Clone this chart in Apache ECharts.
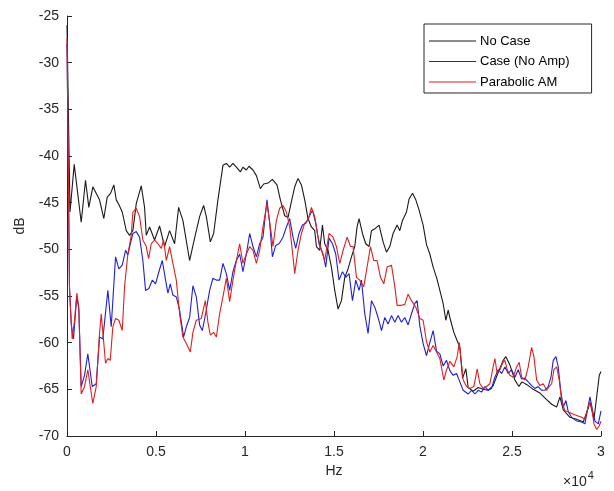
<!DOCTYPE html>
<html>
<head>
<meta charset="utf-8">
<title>Spectrum comparison</title>
<script src="https://cdn.jsdelivr.net/npm/echarts@6/dist/echarts.min.js"></script>
<style>
  html, body { margin: 0; padding: 0; background: #fff; }
  #chart { width: 614px; height: 491px; }
</style>
</head>
<body>
<div id="chart"></div>
<script>
// Series names shown in the legend
const seriesNames = ['No Case', 'Case (No Amp)', 'Parabolic AM'];

// Frequency tick values (Hz); labels are shown in units of 10^4
const xTicks = [0, 5000, 10000, 15000, 20000, 25000, 30000];
const yTicks = [-70, -65, -60, -55, -50, -45, -40, -35, -30, -25];

// No Case: frequency (Hz) and level (dB)
const freqNoCase = [0,169,405,798,1040,1226,1451,1827,2069,2260,2446,2632,2767,2913,3104,3329,3514,3700,3891,4172,4358,4453,4639,4920,5201,5482,5764,6045,6270,6511,6888,7169,7450,7675,7827,8052,8238,8479,8761,8952,9137,9323,9514,9739,9885,10077,10223,10448,10639,10864,11049,11291,11538,11797,11988,12230,12416,12607,12792,12978,13169,13355,13540,13731,13917,14012,14198,14350,14479,14665,14856,15042,15227,15418,15604,15789,15981,16166,16296,16408,16599,16785,16970,17105,17291,17533,17758,17949,18134,18320,18545,18696,18848,19073,19219,19411,19596,19782,20007,20198,20383,20569,20760,20946,21131,21283,21413,21548,21733,21919,22070,22222,22408,22537,22818,23099,23380,23662,23943,24224,24505,24657,24882,25163,25388,25557,25838,26192,26569,26945,27227,27508,27693,27879,28256,28632,29003,29229,29380,29605,29757,29903,30000];
const dbNoCase = [-26.0,-46.0,-40.9,-47.1,-42.6,-45.5,-43.3,-44.7,-46.7,-44.4,-44.0,-43.1,-44.7,-45.2,-46.0,-48.0,-48.5,-48.0,-45.1,-43.2,-45.5,-48.5,-47.6,-49.0,-47.5,-49.7,-48.0,-49.4,-45.5,-46.9,-51.2,-48.8,-46.5,-45.3,-46.5,-49.2,-48.3,-44.7,-41.0,-40.8,-41.2,-40.8,-41.2,-41.7,-41.2,-41.5,-41.1,-41.5,-42.1,-43.5,-43.0,-42.9,-42.5,-43.1,-44.7,-46.4,-46.6,-44.9,-43.3,-42.4,-43.1,-44.7,-46.7,-47.6,-48.0,-49.7,-50.1,-47.4,-49.4,-50.1,-51.9,-54.4,-56.4,-55.5,-53.0,-52.1,-50.8,-49.7,-47.6,-46.7,-48.3,-49.4,-49.7,-48.0,-47.8,-47.4,-49.2,-50.3,-49.7,-48.3,-47.4,-48.0,-46.9,-46.0,-44.6,-44.0,-44.7,-45.8,-47.4,-49.5,-50.5,-51.9,-53.0,-54.4,-55.8,-57.6,-56.5,-57.6,-58.9,-59.8,-60.5,-63.8,-62.8,-64.8,-65.2,-64.8,-65.0,-65.1,-64.6,-63.2,-61.9,-61.5,-62.4,-64.0,-64.7,-64.2,-64.5,-65.0,-65.4,-66.1,-66.6,-66.9,-65.8,-67.2,-68.0,-68.2,-68.5,-67.3,-66.4,-68.2,-65.8,-63.5,-63.1];

// Case (No Amp): frequency (Hz) and level (dB)
const freqCase = [0,141,236,365,551,664,798,984,1170,1417,1642,1827,2013,2294,2485,2727,2913,3104,3290,3419,3610,3700,3891,4077,4262,4414,4600,4791,4976,5162,5353,5539,5668,5803,5949,6140,6326,6551,6703,6888,7074,7265,7450,7602,7788,8013,8198,8390,8575,8761,8952,9137,9323,9514,9700,9885,10077,10262,10448,10639,10824,11010,11235,11387,11538,11724,11910,12135,12326,12511,12697,12849,13034,13226,13411,13597,13788,13973,14159,14384,14535,14721,14912,15098,15283,15475,15660,15846,16037,16223,16408,16543,16729,16914,17105,17291,17476,17668,17853,18039,18230,18416,18601,18792,18978,19163,19354,19540,19669,19821,20007,20198,20383,20569,20760,20946,21131,21322,21508,21694,21885,22070,22256,22537,22728,22914,23099,23290,23476,23662,23853,24039,24224,24415,24601,24786,24977,25163,25349,25540,25726,25911,26102,26288,26473,26665,26850,27036,27188,27317,27469,27598,27733,27879,28031,28160,28351,28632,28913,29099,29229,29380,29532,29661,29847,30000];
const dbCase = [-28.0,-54.0,-58.0,-59.6,-55.0,-56.5,-64.7,-63.5,-61.2,-64.7,-64.4,-59.4,-59.6,-54.4,-58.3,-50.8,-52.1,-51.7,-50.1,-50.6,-49.0,-48.3,-48.1,-48.7,-51.2,-54.4,-54.2,-53.3,-53.7,-52.4,-51.2,-53.3,-54.7,-53.7,-54.9,-55.1,-56.5,-59.4,-58.3,-57.3,-53.9,-55.1,-58.1,-58.7,-56.9,-54.4,-53.1,-53.3,-53.3,-51.5,-52.6,-54.4,-52.4,-51.2,-50.5,-52.4,-50.5,-48.3,-49.7,-50.8,-49.4,-48.7,-44.7,-47.2,-50.8,-49.6,-49.4,-48.7,-47.6,-46.7,-48.7,-49.9,-48.3,-47.4,-47.2,-46.5,-45.8,-47.2,-49.4,-50.5,-51.9,-48.8,-49.4,-50.5,-53.3,-52.4,-53.0,-52.6,-55.5,-53.3,-54.4,-53.3,-56.9,-59.0,-55.5,-56.2,-57.3,-58.7,-57.3,-58.0,-57.1,-57.8,-57.1,-57.8,-57.3,-58.1,-56.9,-55.8,-55.5,-58.2,-60.1,-61.4,-60.0,-58.7,-60.9,-61.2,-62.5,-61.9,-63.0,-63.5,-63.3,-64.2,-65.1,-65.5,-65.1,-65.5,-65.1,-65.3,-64.7,-65.1,-64.9,-63.7,-62.9,-63.3,-62.6,-63.3,-62.9,-63.7,-62.9,-63.9,-63.8,-64.2,-64.6,-64.9,-64.7,-65.1,-65.1,-64.7,-63.7,-61.9,-61.5,-62.6,-65.1,-66.9,-66.2,-67.4,-68.0,-68.4,-68.5,-68.7,-67.3,-65.8,-67.3,-68.4,-68.7,-67.3];

// Parabolic AM: frequency (Hz) and level (dB)
const freqParabolic = [0,141,292,422,551,664,798,984,1170,1305,1451,1642,1827,1923,2052,2165,2294,2429,2575,2727,2913,3104,3233,3419,3610,3700,3891,4077,4262,4453,4583,4735,4920,5106,5297,5426,5578,5764,5949,6140,6326,6511,6703,6928,7074,7265,7546,7636,7771,7917,8052,8238,8390,8575,8761,8952,9137,9323,9514,9700,9885,10077,10262,10448,10639,10824,11010,11235,11426,11572,11763,11949,12135,12326,12511,12697,12792,12978,13169,13355,13540,13731,13917,14102,14294,14479,14721,14946,15137,15323,15514,15739,15925,16071,16262,16447,16672,16858,17049,17235,17420,17612,17797,17983,18230,18416,18545,18792,18978,19163,19354,19596,19821,20007,20198,20383,20569,20760,20946,21171,21322,21508,21733,21919,22042,22256,22447,22633,22858,23043,23195,23380,23572,23757,23909,24039,24168,24320,24471,24601,24730,24882,25067,25259,25405,25540,25726,25911,26102,26232,26383,26569,26754,26945,27092,27227,27356,27508,27654,27789,27975,28160,28351,28632,28913,29099,29229,29341,29476,29605,29757,29903,30000];
const dbParabolic = [-27.4,-54.4,-59.6,-57.6,-54.7,-56.2,-65.5,-64.7,-62.9,-64.7,-66.5,-64.7,-59.0,-56.9,-59.7,-62.2,-61.7,-61.9,-58.3,-57.4,-57.6,-58.7,-54.0,-50.5,-48.5,-46.0,-45.6,-46.5,-49.0,-49.7,-51.0,-49.4,-49.0,-49.4,-49.9,-49.0,-51.2,-49.7,-51.5,-53.3,-56.9,-59.4,-60.1,-61.0,-58.9,-57.6,-57.4,-57.6,-55.5,-57.8,-59.2,-58.9,-59.4,-56.9,-55.1,-53.1,-55.6,-53.3,-51.2,-49.4,-51.5,-50.5,-49.7,-50.1,-51.5,-50.1,-47.6,-45.1,-47.6,-49.7,-46.9,-45.6,-45.3,-46.0,-47.6,-50.8,-52.6,-50.1,-48.3,-47.2,-46.9,-45.5,-46.5,-48.7,-50.1,-51.2,-48.3,-48.7,-49.7,-51.5,-50.1,-48.7,-49.7,-49.7,-53.0,-53.3,-54.0,-51.9,-49.7,-51.2,-51.2,-53.0,-53.7,-51.9,-51.7,-54.0,-56.0,-56.0,-55.9,-54.8,-55.5,-56.2,-57.4,-57.6,-59.9,-61.0,-60.3,-61.0,-61.7,-64.0,-62.9,-62.0,-62.6,-61.5,-60.0,-64.0,-64.7,-64.9,-64.7,-62.8,-64.4,-64.9,-64.7,-64.4,-62.9,-61.7,-63.3,-62.9,-62.2,-61.9,-62.9,-63.5,-63.7,-62.6,-62.1,-63.7,-64.0,-62.6,-60.5,-61.5,-64.0,-64.6,-64.4,-65.1,-64.7,-64.4,-62.9,-62.6,-64.0,-66.2,-67.3,-67.4,-67.6,-67.8,-68.0,-68.2,-67.3,-66.4,-66.9,-68.7,-69.3,-68.9,-68.4];

const lineColors = ['#1a1a1a', '#1f1fd6', '#e01f1f'];
const axisColor = '#262626';
const fontFamily = 'Liberation Sans, Arial, Helvetica, sans-serif';

function pairs(xs, ys) {
  return xs.map((x, i) => [x, ys[i]]);
}

const chart = echarts.init(document.getElementById('chart'), null, { renderer: 'canvas' });

const option = {
  animation: false,
  backgroundColor: '#ffffff',
  textStyle: { fontFamily: fontFamily },
  grid: { left: 67, top: 16, right: 13, bottom: 55, containLabel: false },
  legend: {
    orient: 'vertical',
    left: 424,
    top: 24,
    data: seriesNames,
    icon: 'rect',
    itemWidth: 47,
    itemHeight: 1,
    itemGap: 6.5,
    padding: [10, 22, 4, 5],
    borderColor: '#262626',
    borderWidth: 1,
    backgroundColor: '#ffffff',
    textStyle: { fontSize: 13, lineHeight: 14, color: '#000000', fontFamily: fontFamily, padding: [0, 0, 0, -1] }
  },
  xAxis: {
    type: 'value',
    min: xTicks[0],
    max: xTicks[xTicks.length - 1],
    interval: 5000,
    name: 'Hz',
    nameLocation: 'middle',
    nameGap: 26,
    nameTextStyle: { fontSize: 14, color: axisColor, fontFamily: fontFamily },
    axisLine: { show: true, onZero: false, lineStyle: { color: axisColor, width: 1 } },
    axisTick: { show: true, inside: true, length: 5, lineStyle: { color: axisColor } },
    axisLabel: {
      fontSize: 14, color: axisColor, margin: 9, fontFamily: fontFamily,
      formatter: v => String(v / 10000)
    },
    splitLine: { show: false }
  },
  yAxis: {
    type: 'value',
    min: yTicks[0],
    max: yTicks[yTicks.length - 1],
    interval: 5,
    name: 'dB',
    nameLocation: 'middle',
    nameGap: 40,
    nameRotate: 90,
    nameTextStyle: { fontSize: 14, color: axisColor, fontFamily: fontFamily },
    axisLine: { show: true, onZero: false, lineStyle: { color: axisColor, width: 1 } },
    axisTick: { show: true, inside: true, length: 5, lineStyle: { color: axisColor } },
    axisLabel: { fontSize: 14, color: axisColor, margin: 8, fontFamily: fontFamily },
    splitLine: { show: false }
  },
  graphic: [
    {
      type: 'text',
      left: 563,
      top: 470,
      style: {
        text: '{a|\u00d710}{b|4}',
        rich: {
          a: { fontSize: 14, fill: axisColor, fontFamily: fontFamily, verticalAlign: 'bottom' },
          b: { fontSize: 11, fill: axisColor, fontFamily: fontFamily, verticalAlign: 'top', padding: [0, 0, 8, 1] }
        }
      }
    }
  ],
  series: [
    {
      name: seriesNames[0], type: 'line', symbol: 'none', z: 2,
      data: pairs(freqNoCase, dbNoCase),
      lineStyle: { color: lineColors[0], width: 1.1 },
      itemStyle: { color: lineColors[0] }
    },
    {
      name: seriesNames[1], type: 'line', symbol: 'none', z: 3,
      data: pairs(freqCase, dbCase),
      lineStyle: { color: lineColors[1], width: 1.1 },
      itemStyle: { color: lineColors[1] }
    },
    {
      name: seriesNames[2], type: 'line', symbol: 'none', z: 4,
      data: pairs(freqParabolic, dbParabolic),
      lineStyle: { color: lineColors[2], width: 1.1 },
      itemStyle: { color: lineColors[2] }
    }
  ]
};

chart.setOption(option);
</script>
</body>
</html>
